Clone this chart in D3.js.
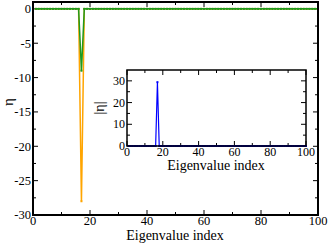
<!DOCTYPE html>
<html>
<head>
<meta charset="utf-8">
<script src="https://cdn.jsdelivr.net/npm/d3@7"></script>
<style>
  body { margin: 0; background: #fff; }
</style>
</head>
<body>
<div id="chart"></div>
<script>
// eigenvalue indices 1..100
var indices = d3.range(1, 101);

// eta, first series (orange)
var etaOrange = [
  0,0,0,0,0,0,0,0,0,0, 0,0,0,0,0,0,-28,0,0,0,
  0,0,0,0,0,0,0,0,0,0, 0,0,0,0,0,0,0,0,0,0,
  0,0,0,0,0,0,0,0,0,0, 0,0,0,0,0,0,0,0,0,0,
  0,0,0,0,0,0,0,0,0,0, 0,0,0,0,0,0,0,0,0,0,
  0,0,0,0,0,0,0,0,0,0, 0,0,0,0,0,0,0,0,0,0
];
// eta, second series (green)
var etaGreen = [
  0,0,0,0,0,0,0,0,0,0, 0,0,0,0,0,0,-9,0,0,0,
  0,0,0,0,0,0,0,0,0,0, 0,0,0,0,0,0,0,0,0,0,
  0,0,0,0,0,0,0,0,0,0, 0,0,0,0,0,0,0,0,0,0,
  0,0,0,0,0,0,0,0,0,0, 0,0,0,0,0,0,0,0,0,0,
  0,0,0,0,0,0,0,0,0,0, 0,0,0,0,0,0,0,0,0,0
];
// |eta| (inset, blue)
var etaAbs = [
  0,0,0,0,0,0,0,0,0,0, 0,0,0,0,0,0,29.4,0,0,0,
  0,0,0,0,0,0,0,0,0,0, 0,0,0,0,0,0,0,0,0,0,
  0,0,0,0,0,0,0,0,0,0, 0,0,0,0,0,0,0,0,0,0,
  0,0,0,0,0,0,0,0,0,0, 0,0,0,0,0,0,0,0,0,0,
  0,0,0,0,0,0,0,0,0,0, 0,0,0,0,0,0,0,0,0,0
];

var xTicks = [0, 20, 40, 60, 80, 100];
var yTicksMain = [0, -5, -10, -15, -20, -25, -30];
var yTicksInset = [0, 10, 20, 30];

var FONT = '"Liberation Serif", "Times New Roman", "DejaVu Serif", serif';
var W = 328, H = 243;
var svg = d3.select('#chart').append('svg')
  .attr('width', W).attr('height', H)
  .attr('font-family', FONT);

function panel(box, xDomain, yDomain, xMinor, yMinor, xMaj, yMaj, fs, frameW) {
  var x = d3.scaleLinear().domain(xDomain).range([box.left, box.right]);
  var y = d3.scaleLinear().domain(yDomain).range([box.bottom, box.top]);
  var g = svg.append('g');
  g.append('rect')
    .attr('x', box.left).attr('y', box.top)
    .attr('width', box.right - box.left).attr('height', box.bottom - box.top)
    .attr('fill', '#fff');
  // inward ticks on all four sides
  function ticks(vals, len, isX) {
    vals.forEach(function (v) {
      if (isX) {
        g.append('line').attr('x1', x(v)).attr('x2', x(v))
          .attr('y1', box.bottom).attr('y2', box.bottom - len)
          .attr('stroke', '#000').attr('stroke-width', 1);
        g.append('line').attr('x1', x(v)).attr('x2', x(v))
          .attr('y1', box.top).attr('y2', box.top + len)
          .attr('stroke', '#000').attr('stroke-width', 1);
      } else {
        g.append('line').attr('y1', y(v)).attr('y2', y(v))
          .attr('x1', box.left).attr('x2', box.left + len)
          .attr('stroke', '#000').attr('stroke-width', 1);
        g.append('line').attr('y1', y(v)).attr('y2', y(v))
          .attr('x1', box.right).attr('x2', box.right - len)
          .attr('stroke', '#000').attr('stroke-width', 1);
      }
    });
  }
  ticks(xMinor, 3, true);
  ticks(xMaj, 5, true);
  ticks(yMinor, 3, false);
  ticks(yMaj, 5, false);
  g.selectAll('.xl').data(xMaj).enter().append('text')
    .attr('x', d => x(d)).attr('y', box.bottom + fs - 2.5)
    .attr('text-anchor', 'middle').attr('font-family', FONT)
    .style('font-size', fs + 'px')
    .text(d => d);
  g.selectAll('.yl').data(yMaj).enter().append('text')
    .attr('x', box.left - 2).attr('y', d => y(d) + fs * 0.35)
    .attr('text-anchor', 'end').attr('font-family', FONT)
    .style('font-size', fs + 'px')
    .text(d => d);
  return { g: g, x: x, y: y, box: box, frameW: frameW };
}

function frame(p) {
  p.g.append('rect')
    .attr('x', p.box.left).attr('y', p.box.top)
    .attr('width', p.box.right - p.box.left).attr('height', p.box.bottom - p.box.top)
    .attr('fill', 'none').attr('stroke', '#000').attr('stroke-width', p.frameW);
}

function series(p, vals, color, width) {
  var pts = indices.map((d, i) => [d, vals[i]]);
  p.g.append('path').datum(pts)
    .attr('d', d3.line().x(d => p.x(d[0])).y(d => p.y(d[1])))
    .attr('fill', 'none').attr('stroke', color).attr('stroke-width', width);
  p.g.selectAll(null).data(pts).enter().append('rect')
    .attr('x', d => p.x(d[0]) - 1).attr('y', d => p.y(d[1]) - 1)
    .attr('width', 2).attr('height', 2).attr('fill', color);
}

// main panel
var main = panel({ left: 33, right: 318, top: 2, bottom: 215 },
  [0, 100], [-30, 1],
  d3.range(10, 100, 20), d3.range(-2.5, -30, -5),
  xTicks, yTicksMain, 12.5, 2);
series(main, etaOrange, '#ffa500', 1.5);
series(main, etaGreen, '#1f9a1f', 1.5);
frame(main);

svg.append('text').attr('x', 175).attr('y', 240)
  .attr('text-anchor', 'middle').attr('font-family', FONT)
  .style('font-size', '14px')
  .text('Eigenvalue index');
svg.append('text')
  .attr('transform', 'translate(13,102) rotate(-90)')
  .attr('text-anchor', 'middle').attr('font-family', FONT)
  .style('font-size', '15px')
  .text('η');

// inset panel
var inset = panel({ left: 127, right: 306, top: 70, bottom: 146 },
  [0, 100], [0, 35],
  d3.range(10, 100, 20), d3.range(5, 35, 10),
  xTicks, yTicksInset, 12, 1.5);
series(inset, etaAbs, '#0000ff', 1.2);
frame(inset);

svg.append('text').attr('x', 216).attr('y', 170)
  .attr('text-anchor', 'middle').attr('font-family', FONT)
  .style('font-size', '14px')
  .text('Eigenvalue index');
svg.append('text')
  .attr('transform', 'translate(104,108) rotate(-90)')
  .attr('text-anchor', 'middle').attr('font-family', FONT)
  .style('font-size', '14px')
  .text('|η|');
</script>
</body>
</html>
